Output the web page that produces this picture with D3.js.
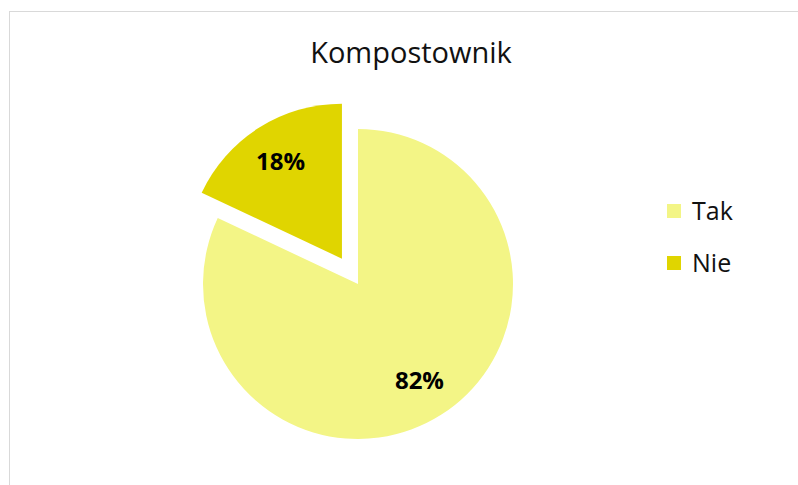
<!DOCTYPE html>
<html>
<head>
<meta charset="utf-8">
<script src="https://cdn.jsdelivr.net/npm/d3@7"></script>
<style>
  body { margin: 0; background: #fff; }
  svg { display: block; font-family: "Open Sans", sans-serif; }
</style>
</head>
<body>
<div id="chart"></div>
<script>
const categories = ['Tak', 'Nie'];
const values = [82, 18];
const colors = ['#F3F586', '#E0D500'];
const title = 'Kompostownik';

const W = 798, H = 485;
const cx = 358, cy = 284, r = 155;
const explode = 30;

const svg = d3.select('#chart').append('svg')
    .attr('width', W)
    .attr('height', H);

// chart frame (runs off right/bottom like the screenshot)
svg.append('rect')
    .attr('x', 9.5).attr('y', 11.5)
    .attr('width', W + 10).attr('height', H + 10)
    .attr('fill', 'none')
    .attr('stroke', '#D9D9D9');

svg.append('text')
    .attr('x', 411).attr('y', 63)
    .attr('text-anchor', 'middle')
    .attr('font-size', 29)
    .attr('fill', '#111')
    .text(title);

const data = categories.map((c, i) => ({ name: c, value: values[i], color: colors[i] }));

// Tak starts at 12 o'clock going clockwise, Nie closes the circle
const pie = d3.pie()
    .sort(null)
    .value(d => d.value);

const arc = d3.arc().innerRadius(0).outerRadius(r);
const labelArc = d3.arc().innerRadius(r * 0.74).outerRadius(r * 0.74);

const g = svg.append('g').attr('transform', `translate(${cx},${cy})`);

const slices = g.selectAll('.slice')
    .data(pie(data))
    .enter().append('g')
    .attr('class', 'slice')
    .attr('transform', d => {
        if (d.data.name !== 'Nie') return null;
        const a = (d.startAngle + d.endAngle) / 2;
        return `translate(${Math.sin(a) * explode},${-Math.cos(a) * explode})`;
    });

slices.append('path')
    .attr('d', arc)
    .attr('fill', d => d.data.color);

slices.append('text')
    .attr('transform', d => `translate(${labelArc.centroid(d)})`)
    .attr('text-anchor', 'middle')
    .attr('dy', '0.35em')
    .attr('font-size', 24)
    .attr('font-weight', 'bold')
    .attr('fill', '#000')
    .text(d => d.data.value + '%');

// legend
const legend = svg.append('g').attr('transform', 'translate(667,204)');
const item = legend.selectAll('.item')
    .data(data)
    .enter().append('g')
    .attr('class', 'item')
    .attr('transform', (d, i) => `translate(0,${i * 52})`);

item.append('rect')
    .attr('width', 14).attr('height', 14)
    .attr('fill', d => d.color);

item.append('text')
    .attr('x', 25).attr('y', 16)
    .attr('font-size', 25)
    .attr('fill', '#111')
    .text(d => d.name);
</script>
</body>
</html>
